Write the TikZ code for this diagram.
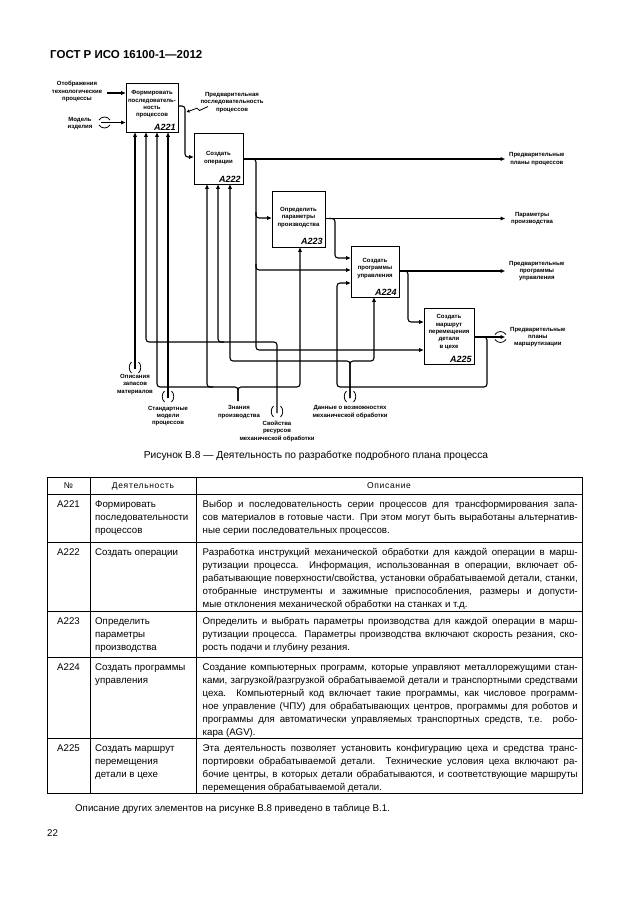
\documentclass[tikz,border=0pt]{standalone}
\usepackage{fontspec}
\setmainfont{Liberation Sans}
\usetikzlibrary{arrows.meta,calc}
\newlength\dw
\setlength\dw{375pt}
\newcommand\J[1]{\makebox[\dw][s]{#1}}
\newcommand\vtun[3]{%
  \draw[tun] ({#1-3.5},{#2}) .. controls ({#1-6.5},{#2+2.5}) and ({#1-6.5},{#3-2.5}) .. ({#1-3.5},{#3});
  \draw[tun] ({#1+3.5},{#2}) .. controls ({#1+6.5},{#2+2.5}) and ({#1+6.5},{#3-2.5}) .. ({#1+3.5},{#3});}
\newcommand\htun[3]{%
  \draw[tun] ({#2},{#1-2.5}) .. controls ({#2+2.5},{#1-6.5}) and ({#3-2.5},{#1-6.5}) .. ({#3},{#1-2.5});
  \draw[tun] ({#2},{#1+2.5}) .. controls ({#2+2.5},{#1+6.5}) and ({#3-2.5},{#1+6.5}) .. ({#3},{#1+2.5});}
\begin{document}
\begin{tikzpicture}[x=1pt,y=-1pt,
  boxs/.style={draw,line width=0.9pt,inner sep=0pt},
  btxt/.style={font=\fontsize{6}{7.4}\selectfont\bfseries,align=center,inner sep=0pt},
  idlab/.style={font=\fontsize{9}{9}\selectfont\bfseries\itshape,inner sep=0pt,anchor=south east},
  conn/.style={line width=1.1pt,rounded corners=3pt,-{Triangle[length=4.5pt,width=3.6pt]}},
  tun/.style={line width=0.8pt},
  tbl/.style={line width=0.8pt},
  cell/.style={font=\fontsize{9.7}{13.1}\selectfont,align=left,inner sep=0pt,anchor=north west},
  one/.style={font=\fontsize{9.7}{13.1}\selectfont,inner sep=0pt},
  hd/.style={font=\fontsize{8.5}{10}\selectfont\addfontfeature{LetterSpace=8},inner sep=0pt,anchor=base}
]
\fill[white] (0,0) rectangle (630,913);
\useasboundingbox (0,0) rectangle (630,913);

% page header
\node[font=\fontsize{11.5}{13}\selectfont\bfseries,anchor=base west,inner sep=0pt] (hdr) at (50,58.3) {ГОСТ Р ИСО 16100-1—2012};

% boxes
\node[boxs,minimum width=52pt,minimum height=49pt] (a221) at (152,107.5) {};
\node[boxs,minimum width=49pt,minimum height=51pt] (a222) at (218.5,158.5) {};
\node[boxs,minimum width=53pt,minimum height=56pt] (a223) at (298.5,219) {};
\node[boxs,minimum width=48pt,minimum height=51pt] (a224) at (375,271.5) {};
\node[boxs,minimum width=50pt,minimum height=56pt] (a225) at (449,336) {};

\node[btxt] (a221t) at ($(a221.center)+(0,-3.2)$) {Формировать\\последователь-\\ность\\процессов};
\node[btxt] (a222t) at ($(a222.center)+(0,-0.5)$) {Создать\\операции};
\node[btxt] (a223t) at ($(a223.center)+(0,-1.5)$) {Определить\\параметры\\производства};
\node[btxt] (a224t) at ($(a224.center)+(0,-3)$) {Создать\\программы\\управления};
\node[btxt] (a225t) at ($(a225.center)+(0,-4)$) {Создать\\маршрут\\перемещения\\детали\\в цехе};

\node[idlab] (a221i) at ($(a221.south east)+(-2.5,-1.8)$) {A221};
\node[idlab] (a222i) at ($(a222.south east)+(-2.5,-1.8)$) {A222};
\node[idlab] (a223i) at ($(a223.south east)+(-2.5,-2.5)$) {A223};
\node[idlab] (a224i) at ($(a224.south east)+(-2.5,-1.8)$) {A224};
\node[idlab] (a225i) at ($(a225.south east)+(-2.5,-1.8)$) {A225};

% inputs of A221
\node[btxt] (l0a) at (77,91.5) {Отображения\\технологические\\процессы};
\coordinate (i1s) at (107,93);
\draw[conn] (i1s) -- (i1s -| a221.west);
\node[btxt] (l0b) at (80,123.5) {Модель\\изделия};
\coordinate (i2s) at (101,122.5);
\draw[conn] (i2s) -- (i2s -| a221.west);
\htun{122.5}{99}{110}

% A221 -> A222
\coordinate (k1) at (185,106);
\coordinate (k2) at (185,157);
\draw[conn] (a221.east |- k1) -- (k1) -- (k2) -- (k2 -| a222.west);
\node[btxt] (lsq) at (232,102.5) {Предварительная\\последовательность\\процессов};
\coordinate (sq) at (208,106.5);
\draw[line width=0.8pt,-{Triangle[length=3pt,width=3pt]}] (sq) -- (199.5,110.5) -- (197,108.2) -- (186.5,112);

% A222 output and branches
\coordinate (e1) at (505,159);
\draw[conn] (a222.east |- e1) -- (e1);
\node[btxt,anchor=west] (o1) at ($(e1)+(4,0)$) {Предварительные\\планы процессов};
\coordinate (b1) at (256,159);
\coordinate (b1d) at (256,350);
\draw[conn] ($(b1)+(-6,0)$) -- (b1) -- (b1d) -- (b1d -| a225.west);
\coordinate (b2) at (256,218);
\draw[conn] ($(b2)+(0,-6)$) -- (b2) -- (b2 -| a223.west);
\coordinate (b3) at (256,270);
\draw[conn] ($(b3)+(0,-6)$) -- (b3) -- (b3 -| a224.west);

% A223 output and branch
\coordinate (e2) at (505,218.5);
\draw[conn] (a223.east |- e2) -- (e2);
\node[btxt,anchor=west] (o2) at ($(e2)+(6,0)$) {Параметры\\производства};
\coordinate (b4) at (335,218.5);
\coordinate (b4d) at (335,258);
\draw[conn] ($(b4)+(-6,0)$) -- (b4) -- (b4d) -- (b4d -| a224.west);

% A224 output and branch
\coordinate (e3) at (505,271);
\draw[conn] (a224.east |- e3) -- (e3);
\node[btxt,anchor=west] (o3) at ($(e3)+(4,0)$) {Предварительные\\программы\\управления};
\coordinate (b5) at (408,271);
\coordinate (b5d) at (408,322);
\draw[conn] ($(b5)+(-6,0)$) -- (b5) -- (b5d) -- (b5d -| a225.west);

% A225 output and feedback
\coordinate (e4) at (505,337);
\draw[conn] (a225.east |- e4) -- (e4);
\htun{337}{495}{506}
\node[btxt,anchor=west] (o4) at ($(e4)+(5,0)$) {Предварительные\\планы\\маршрутизации};
\coordinate (f1) at (487,337);
\coordinate (f2) at (487,387);
\coordinate (f3) at (337,387);
\coordinate (f4) at (337,283);
\draw[conn] ($(f1)+(-6,0)$) -- (f1) -- (f2) -- (f3) -- (f4) -- (f4 -| a224.west);

% controls
\coordinate (c1) at (135,369);
\draw[conn] (c1) -- (c1 |- a221.south);
\vtun{135}{362}{373}
\node[btxt] (l1) at (135,384.5) {Описания\\запасов\\материалов};

\coordinate (c2) at (168,398);
\draw[conn] (c2) -- (c2 |- a221.south);
\vtun{168}{391}{402}
\node[btxt] (l2) at (168,416) {Стандартные\\модели\\процессов};

\coordinate (c3) at (238,401);
\coordinate (c3j) at (238,387);
\coordinate (c3l) at (157,387);
\coordinate (c3r) at (300,387);
\coordinate (c3m) at (207,387);
\draw[conn] (c3) -- (c3j) -- (c3l) -- (c3l |- a221.south);
\draw[conn] (c3) -- (c3j) -- (c3r) -- (c3r |- a223.south);
\draw[conn] ($(c3m)+(6,0)$) -- (c3m) -- (c3m |- a222.south);
\node[btxt] (l3) at (239,412) {Знания\\производства};

\coordinate (c4) at (277,413);
\coordinate (c4j) at (277,342);
\coordinate (c4l) at (146,342);
\coordinate (c4m) at (218,342);
\draw[conn] (c4) -- (c4j) -- (c4l) -- (c4l |- a221.south);
\draw[conn] ($(c4m)+(6,0)$) -- (c4m) -- (c4m |- a222.south);
\vtun{277}{406}{417}
\node[btxt] (l4) at (277,431) {Свойства\\ресурсов\\механической обработки};

\coordinate (c5) at (350,398);
\coordinate (c5j) at (350,361);
\coordinate (c5l) at (230,361);
\coordinate (c5r) at (374,361);
\draw[conn] (c5) -- (c5j) -- (c5l) -- (c5l |- a222.south);
\draw[conn] (c5) -- (c5j) -- (c5r) -- (c5r |- a224.south);
\vtun{350}{391}{402}
\node[btxt] (l5) at (350,412) {Данные о возможностях\\механической обработки};

% caption
\node[font=\fontsize{10.2}{12}\selectfont,inner sep=0pt,anchor=base] (cap) at (316,458.5) {Рисунок В.8 — Деятельность по разработке подробного плана процесса};

% table
\draw[tbl] (47,477) rectangle (582,793);
\draw[tbl] (47,494) -- (582,494);
\draw[tbl] (47,542) -- (582,542);
\draw[tbl] (47,611) -- (582,611);
\draw[tbl] (47,657) -- (582,657);
\draw[tbl] (47,738) -- (582,738);
\draw[tbl] (90,477) -- (90,793);
\draw[tbl] (196,477) -- (196,793);

\node[hd] (h1) at (68.5,488.5) {№};
\node[hd] (h2) at (143,488.5) {Деятельность};
\node[hd] (h3) at (389,488.5) {Описание};

% row A221
\node[one,anchor=base] (n1) at (68.5,507) {A221};
\node[cell] (d1) at (95,498) {\rule{0pt}{9pt}Формировать\\последовательности\\процессов};
\node[cell] (t1) at (202.5,498) {\rule{0pt}{9pt}\J{Выбор и последовательность серии процессов для трансформирования запа-}\\
\J{сов материалов в готовые части. При этом могут быть выработаны альтернатив-}\\
ные серии последовательных процессов.};

% row A222
\node[one,anchor=base] (n2) at (68.5,555) {A222};
\node[cell] (d2) at (95,546) {\rule{0pt}{9pt}Создать операции};
\node[cell] (t2) at (202.5,546) {\rule{0pt}{9pt}\J{Разработка инструкций механической обработки для каждой операции в марш-}\\
\J{рутизации процесса. Информация, использованная в операции, включает об-}\\
\J{рабатывающие поверхности/свойства, установки обрабатываемой детали, станки,}\\
\J{отобранные инструменты и зажимные приспособления, размеры и допусти-}\\
мые отклонения механической обработки на станках и т.д.};

% row A223
\node[one,anchor=base] (n3) at (68.5,624) {A223};
\node[cell] (d3) at (95,615) {\rule{0pt}{9pt}Определить\\параметры\\производства};
\node[cell] (t3) at (202.5,615) {\rule{0pt}{9pt}\J{Определить и выбрать параметры производства для каждой операции в марш-}\\
\J{рутизации процесса. Параметры производства включают скорость резания, ско-}\\
рость подачи и глубину резания.};

% row A224
\node[one,anchor=base] (n4) at (68.5,670) {A224};
\node[cell] (d4) at (95,661) {\rule{0pt}{9pt}Создать программы\\управления};
\node[cell] (t4) at (202.5,661) {\rule{0pt}{9pt}\J{Создание компьютерных программ, которые управляют металлорежущими стан-}\\
\J{ками, загрузкой/разгрузкой обрабатываемой детали и транспортными средствами}\\
\J{цеха. Компьютерный код включает такие программы, как числовое программ-}\\
\J{ное управление (ЧПУ) для обрабатывающих центров, программы для роботов и}\\
\J{программы для автоматически управляемых транспортных средств, т.е. робо-}\\
кара (AGV).};

% row A225
\node[one,anchor=base] (n5) at (68.5,751) {A225};
\node[cell] (d5) at (95,742) {\rule{0pt}{9pt}Создать маршрут\\перемещения\\детали в цехе};
\node[cell] (t5) at (202.5,742) {\rule{0pt}{9pt}\J{Эта деятельность позволяет установить конфигурацию цеха и средства транс-}\\
\J{портировки обрабатываемой детали. Технические условия цеха включают ра-}\\
\J{бочие центры, в которых детали обрабатываются, и соответствующие маршруты}\\
перемещения обрабатываемой детали.};

\node[one,anchor=base west] (after) at (75,811.5) {Описание других элементов на рисунке В.8 приведено в таблице В.1.};
\node[one,anchor=base west] (pg) at (47,836.5) {22};
\end{tikzpicture}
\end{document}
